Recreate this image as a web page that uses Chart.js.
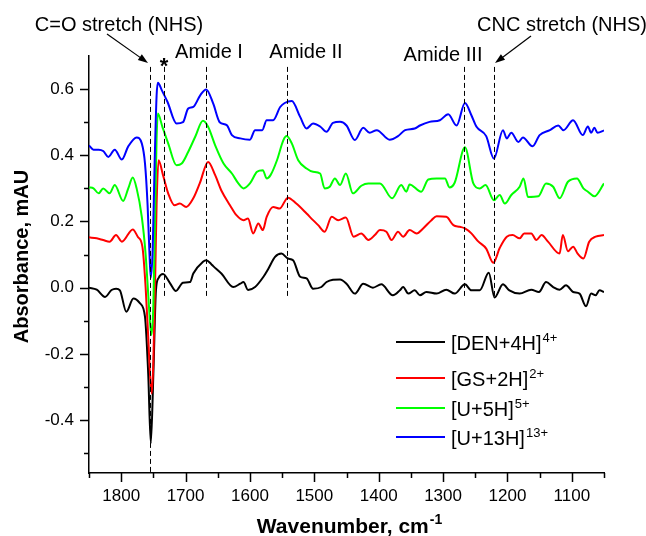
<!DOCTYPE html>
<html>
<head>
<meta charset="utf-8">
<script src="https://cdn.jsdelivr.net/npm/chart.js@4.4.1/dist/chart.umd.min.js"></script>
<style>
  body { margin: 0; background: #fff; }
  #wrap { width: 646px; height: 536px; }
</style>
</head>
<body>
<div id="wrap"><canvas id="irChart" width="646" height="536"></canvas></div>
<script>
'use strict';

// spectra: [wavenumber, absorbance]
var denData = [
  [1850, 0.0], [1838, -0.006], [1825, -0.028], [1815, -0.007], [1808, -0.003], [1802, -0.008],
  [1792, -0.073], [1781, -0.033], [1771, -0.047], [1763, -0.088], [1758, -0.26], [1754, -0.47],
  [1750, -0.26], [1746, -0.008], [1742, 0.029], [1735, 0.041], [1724, 0.013], [1715, -0.01],
  [1704, 0.015], [1693, 0.017], [1688, 0.043], [1673, 0.078], [1668, 0.083], [1660, 0.071],
  [1657, 0.065], [1644, 0.042], [1626, 0.002], [1615, 0.012], [1610, 0.017], [1603, -0.007],
  [1592, 0.002], [1579, 0.033], [1572, 0.055], [1561, 0.093], [1551, 0.103], [1541, 0.088],
  [1533, 0.083], [1522, 0.033], [1512, 0.028], [1502, -0.003], [1489, 0.002], [1481, 0.017],
  [1471, 0.024], [1460, 0.025], [1450, 0.012], [1437, -0.018], [1424, 0.012], [1409, 0.0],
  [1396, 0.01], [1378, -0.023], [1367, -0.008], [1362, 0.002], [1354, -0.018], [1344, -0.008],
  [1336, -0.023], [1326, -0.013], [1310, -0.018], [1295, -0.006], [1282, -0.018], [1266, 0.01],
  [1256, -0.008], [1243, -0.008], [1229, 0.045], [1220, -0.03], [1207, 0.01], [1197, -0.008],
  [1181, -0.018], [1163, -0.006], [1151, -0.013], [1140, 0.017], [1129, 0.002], [1119, -0.006],
  [1109, 0.007], [1098, -0.013], [1088, -0.018], [1078, -0.056], [1070, -0.018], [1063, -0.023],
  [1057, -0.008], [1050, -0.013]
];

var gsData = [
  [1850, 0.152], [1838, 0.149], [1828, 0.144], [1818, 0.139], [1808, 0.159], [1799, 0.139],
  [1782, 0.176], [1774, 0.153], [1767, 0.123], [1762, 0.0], [1758, -0.15], [1755, -0.27],
  [1752.5, -0.32], [1750, -0.22], [1747, 0.05], [1745, 0.25], [1742, 0.385], [1735, 0.34],
  [1727, 0.285], [1717, 0.249], [1709, 0.254], [1699, 0.244], [1688, 0.27], [1678, 0.315],
  [1665, 0.38], [1654, 0.34], [1644, 0.292], [1631, 0.249], [1621, 0.219], [1610, 0.204],
  [1603, 0.209], [1595, 0.164], [1587, 0.194], [1580, 0.174], [1574, 0.214], [1564, 0.244],
  [1554, 0.239], [1541, 0.272], [1528, 0.254], [1512, 0.224], [1502, 0.204], [1494, 0.189],
  [1484, 0.169], [1473, 0.214], [1463, 0.204], [1451, 0.212], [1439, 0.154], [1427, 0.164],
  [1416, 0.144], [1406, 0.159], [1398, 0.174], [1388, 0.169], [1380, 0.144], [1370, 0.169],
  [1362, 0.154], [1352, 0.174], [1341, 0.164], [1331, 0.179], [1318, 0.204], [1310, 0.216],
  [1295, 0.214], [1284, 0.189], [1274, 0.184], [1266, 0.179], [1256, 0.164], [1245, 0.139],
  [1233, 0.118], [1222, 0.075], [1212, 0.12], [1201, 0.154], [1192, 0.159], [1181, 0.149],
  [1174, 0.164], [1163, 0.164], [1155, 0.144], [1147, 0.159], [1137, 0.139], [1119, 0.103],
  [1114, 0.159], [1106, 0.11], [1098, 0.124], [1091, 0.103], [1082, 0.088], [1073, 0.139],
  [1063, 0.154], [1050, 0.159]
];

var u5Data = [
  [1850, 0.303], [1843, 0.30], [1835, 0.285], [1828, 0.30], [1818, 0.285], [1810, 0.31],
  [1797, 0.262], [1789, 0.30], [1782, 0.333], [1776, 0.30], [1768, 0.214], [1762, 0.10],
  [1758, -0.02], [1755, -0.11], [1753, -0.143], [1750, -0.05], [1747, 0.25], [1745, 0.45],
  [1743, 0.526], [1736, 0.486], [1727, 0.436], [1714, 0.37], [1706, 0.375], [1696, 0.41],
  [1685, 0.456], [1673, 0.504], [1665, 0.486], [1654, 0.43], [1641, 0.375], [1628, 0.345],
  [1618, 0.315], [1610, 0.30], [1600, 0.315], [1589, 0.35], [1580, 0.355], [1574, 0.33],
  [1568, 0.34], [1558, 0.385], [1548, 0.446], [1543, 0.458], [1535, 0.436], [1525, 0.385],
  [1512, 0.36], [1502, 0.35], [1491, 0.345], [1484, 0.30], [1476, 0.305], [1468, 0.33],
  [1460, 0.31], [1451, 0.345], [1440, 0.285], [1427, 0.308], [1416, 0.315], [1408, 0.315],
  [1398, 0.315], [1379, 0.27], [1365, 0.31], [1357, 0.29], [1352, 0.312], [1334, 0.29],
  [1323, 0.327], [1310, 0.33], [1297, 0.33], [1290, 0.303], [1282, 0.317], [1266, 0.424],
  [1253, 0.315], [1243, 0.30], [1234, 0.31], [1221, 0.264], [1212, 0.28], [1204, 0.254],
  [1194, 0.28], [1181, 0.305], [1175, 0.33], [1168, 0.274], [1152, 0.276], [1140, 0.315],
  [1129, 0.305], [1119, 0.27], [1106, 0.32], [1092, 0.33], [1082, 0.30], [1075, 0.29],
  [1065, 0.276], [1050, 0.315]
];

var u13Data = [
  [1850, 0.430], [1843, 0.417], [1835, 0.417], [1828, 0.413], [1820, 0.395], [1810, 0.417],
  [1799, 0.387], [1789, 0.427], [1776, 0.454], [1768, 0.436], [1763, 0.375], [1759, 0.25],
  [1756, 0.10], [1754, 0.03], [1751, 0.12], [1748, 0.38], [1745, 0.58], [1743, 0.619],
  [1737, 0.597], [1728, 0.561], [1714, 0.496], [1704, 0.50], [1696, 0.541], [1688, 0.546],
  [1677, 0.582], [1668, 0.599], [1657, 0.556], [1647, 0.50], [1636, 0.491], [1628, 0.461],
  [1615, 0.451], [1600, 0.447], [1592, 0.476], [1581, 0.476], [1574, 0.506], [1564, 0.506],
  [1553, 0.546], [1546, 0.558], [1535, 0.564], [1522, 0.516], [1512, 0.481], [1502, 0.496],
  [1491, 0.487], [1481, 0.471], [1471, 0.498], [1460, 0.501], [1450, 0.49], [1437, 0.446],
  [1424, 0.483], [1414, 0.468], [1403, 0.476], [1383, 0.447], [1370, 0.458], [1359, 0.476],
  [1344, 0.481], [1336, 0.49], [1321, 0.501], [1305, 0.506], [1292, 0.524], [1279, 0.49],
  [1266, 0.558], [1256, 0.521], [1248, 0.486], [1233, 0.458], [1221, 0.390], [1207, 0.476],
  [1201, 0.451], [1194, 0.468], [1183, 0.44], [1176, 0.454], [1161, 0.427], [1150, 0.461],
  [1134, 0.476], [1121, 0.49], [1113, 0.476], [1098, 0.506], [1083, 0.461], [1075, 0.487],
  [1070, 0.468], [1065, 0.483], [1060, 0.468], [1050, 0.475]
];

var seriesNames = ['[DEN+4H]', '[GS+2H]', '[U+5H]', '[U+13H]'];
var seriesCharges = ['4+', '2+', '5+', '13+'];
var seriesColors = ['#000000', '#ff0000', '#00ff00', '#0000ff'];

var xMajorTicks = [1800, 1700, 1600, 1500, 1400, 1300, 1200, 1100];
var xMinorTicks = [1850, 1750, 1650, 1550, 1450, 1350, 1250, 1150, 1050];
var yMajorTicks = [-0.4, -0.2, 0.0, 0.2, 0.4, 0.6];
var yMinorTicks = [-0.5, -0.3, -0.1, 0.1, 0.3, 0.5];

// dashed marker lines: wavenumber, top and bottom absorbance
var markerWavenumbers = [1755, 1734, 1669, 1543, 1267, 1221];
var markerTop = 0.667;
var markerBottoms = [-0.56, -0.032, -0.032, -0.032, -0.032, -0.032];

var FONT = "'Liberation Sans', Arial, Helvetica, sans-serif";

function toPoints(arr) {
  return arr.map(function(p) { return { x: p[0], y: p[1] }; });
}

function arrow(ctx, x1, y1, x2, y2) {
  var a = Math.atan2(y2 - y1, x2 - x1);
  var len = 10, hw = 3.5;
  ctx.beginPath();
  ctx.moveTo(x1, y1);
  ctx.lineTo(x2 - Math.cos(a) * len * 0.8, y2 - Math.sin(a) * len * 0.8);
  ctx.stroke();
  ctx.beginPath();
  ctx.moveTo(x2, y2);
  ctx.lineTo(x2 - Math.cos(a) * len - Math.sin(a) * hw, y2 - Math.sin(a) * len + Math.cos(a) * hw);
  ctx.lineTo(x2 - Math.cos(a) * len + Math.sin(a) * hw, y2 - Math.sin(a) * len - Math.cos(a) * hw);
  ctx.closePath();
  ctx.fill();
}

function textWithSup(ctx, main, sup, x, y, mainFont, supFont, rise) {
  ctx.font = mainFont;
  ctx.fillText(main, x, y);
  var w = ctx.measureText(main).width;
  ctx.font = supFont;
  ctx.fillText(sup, x + w + 1, y - rise);
}

var decorPlugin = {
  id: 'decor',
  afterDraw: function(chart) {
    var ctx = chart.ctx;
    var xs = chart.scales.x, ys = chart.scales.y;
    var area = chart.chartArea;
    ctx.save();
    ctx.strokeStyle = '#000';
    ctx.fillStyle = '#000';

    // tick marks, pointing outward
    ctx.lineWidth = 1.5;
    ctx.beginPath();
    xMajorTicks.forEach(function(v) {
      var px = Math.round(xs.getPixelForValue(v)) + 0.5;
      ctx.moveTo(px, area.bottom); ctx.lineTo(px, area.bottom + 9);
    });
    xMinorTicks.forEach(function(v) {
      var px = Math.round(xs.getPixelForValue(v)) + 0.5;
      ctx.moveTo(px, area.bottom); ctx.lineTo(px, area.bottom + 5);
    });
    yMajorTicks.forEach(function(v) {
      var py = Math.round(ys.getPixelForValue(v)) + 0.5;
      ctx.moveTo(area.left, py); ctx.lineTo(area.left - 9, py);
    });
    yMinorTicks.forEach(function(v) {
      var py = Math.round(ys.getPixelForValue(v)) + 0.5;
      ctx.moveTo(area.left, py); ctx.lineTo(area.left - 5, py);
    });
    ctx.stroke();

    // dashed marker lines
    ctx.lineWidth = 1;
    ctx.setLineDash([5, 3]);
    markerWavenumbers.forEach(function(w, i) {
      var px = Math.round(xs.getPixelForValue(w)) + 0.5;
      ctx.beginPath();
      ctx.moveTo(px, ys.getPixelForValue(markerTop));
      ctx.lineTo(px, ys.getPixelForValue(markerBottoms[i]));
      ctx.stroke();
    });
    ctx.setLineDash([]);

    // band labels
    ctx.font = '20px ' + FONT;
    ctx.textAlign = 'center';
    ctx.textBaseline = 'alphabetic';
    ctx.fillText('C=O stretch (NHS)', 119, 31);
    ctx.fillText('CNC stretch (NHS)', 562, 31);
    ctx.fillText('Amide I', 209, 58);
    ctx.fillText('Amide II', 306, 58);
    ctx.fillText('Amide III', 443, 61);
    ctx.font = 'bold 22px ' + FONT;
    ctx.fillText('*', 164, 73);

    ctx.lineWidth = 1.2;
    arrow(ctx, 107, 34, 148, 63);
    arrow(ctx, 531, 36, 495, 63);

    // axis titles
    ctx.textAlign = 'left';
    ctx.font = 'bold 21px ' + FONT;
    var t1 = 'Wavenumber, cm';
    var w1 = ctx.measureText(t1).width;
    ctx.font = 'bold 14px ' + FONT;
    var w2 = ctx.measureText('-1').width;
    var cx = (area.left + area.right) / 2 + 3;
    var sx = cx - (w1 + w2 + 1) / 2;
    textWithSup(ctx, t1, '-1', sx, 533, 'bold 21px ' + FONT, 'bold 14px ' + FONT, 9);

    ctx.save();
    ctx.translate(22, (area.top + area.bottom) / 2 - 8);
    ctx.rotate(-Math.PI / 2);
    ctx.textAlign = 'center';
    ctx.textBaseline = 'middle';
    ctx.font = 'bold 20px ' + FONT;
    ctx.fillText('Absorbance, mAU', 0, 0);
    ctx.restore();

    // legend
    var rows = [342, 378, 408, 437];
    ctx.textAlign = 'left';
    ctx.textBaseline = 'alphabetic';
    seriesNames.forEach(function(name, i) {
      ctx.strokeStyle = seriesColors[i];
      ctx.lineWidth = 2;
      ctx.beginPath();
      ctx.moveTo(396, rows[i]);
      ctx.lineTo(445, rows[i]);
      ctx.stroke();
      ctx.fillStyle = '#000';
      textWithSup(ctx, name, seriesCharges[i], 451, rows[i] + 8, '20px ' + FONT, '13px ' + FONT, 8);
    });

    ctx.restore();
  }
};

var allData = [denData, gsData, u5Data, u13Data];

var ctx = document.getElementById('irChart').getContext('2d');
var irChart = new Chart(ctx, {
  type: 'line',
  data: {
    datasets: allData.map(function(d, i) {
      return {
        label: seriesNames[i] + seriesCharges[i],
        data: toPoints(d),
        borderColor: seriesColors[i],
        borderWidth: 2,
        pointRadius: 0,
        fill: false,
        cubicInterpolationMode: 'monotone',
        order: 3 - i
      };
    })
  },
  options: {
    responsive: false,
    animation: false,
    devicePixelRatio: 1,
    layout: { padding: { top: 56, right: 42, left: 0, bottom: 0 } },
    plugins: {
      legend: { display: false },
      tooltip: { enabled: false }
    },
    scales: {
      x: {
        type: 'linear',
        reverse: true,
        min: 1050,
        max: 1850,
        afterFit: function(s) { s.height = 63; },
        afterBuildTicks: function(s) {
          s.ticks = xMajorTicks.map(function(v) { return { value: v }; });
        },
        grid: { display: false, drawTicks: false },
        border: { display: true, color: '#000', width: 1.5 },
        ticks: {
          padding: 13,
          color: '#000',
          autoSkip: false,
          maxRotation: 0,
          font: { family: FONT, size: 17 },
          callback: function(v) { return String(v); }
        }
      },
      y: {
        min: -0.56,
        max: 0.70,
        afterFit: function(s) { s.width = 89; },
        afterBuildTicks: function(s) {
          s.ticks = yMajorTicks.map(function(v) { return { value: v }; });
        },
        grid: { display: false, drawTicks: false },
        border: { display: true, color: '#000', width: 1.5 },
        ticks: {
          padding: 15,
          color: '#000',
          autoSkip: false,
          font: { family: FONT, size: 17 },
          callback: function(v) { return v.toFixed(1); }
        }
      }
    }
  },
  plugins: [decorPlugin]
});
</script>
</body>
</html>
